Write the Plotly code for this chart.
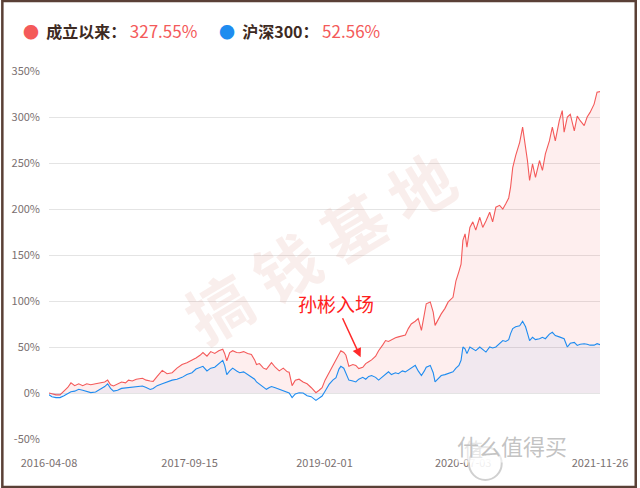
import plotly.graph_objects as go

dates = [
"2016-04-08","2016-04-19","2016-05-04","2016-05-19","2016-06-03","2016-06-17","2016-06-29","2016-07-13","2016-07-28","2016-08-12",
"2016-08-27","2016-09-11","2016-09-29","2016-10-18","2016-11-02","2016-11-13","2016-11-24","2016-12-05","2016-12-20","2017-01-04",
"2017-01-19","2017-01-30","2017-02-13","2017-02-28","2017-03-23","2017-04-06","2017-04-21","2017-05-02","2017-05-17","2017-06-05",
"2017-06-23","2017-07-12","2017-07-30","2017-08-18","2017-09-05","2017-09-24","2017-10-09","2017-10-24","2017-11-04","2017-11-19",
"2017-12-03","2017-12-18","2018-01-02","2018-01-17","2018-01-24","2018-02-01","2018-02-12","2018-02-23","2018-03-10","2018-03-21",
"2018-04-05","2018-04-20","2018-05-04","2018-05-16","2018-05-23","2018-06-03","2018-06-18","2018-06-29","2018-07-10","2018-07-18",
"2018-08-01","2018-08-16","2018-08-31","2018-09-15","2018-09-22","2018-10-03","2018-10-15","2018-10-29","2018-11-13","2018-11-28",
"2018-12-13","2018-12-31","2019-01-12","2019-01-23","2019-02-03","2019-02-18","2019-03-04","2019-03-16","2019-03-27","2019-04-03",
"2019-04-14","2019-04-22","2019-05-03","2019-05-18","2019-05-29","2019-06-09","2019-06-24","2019-07-05","2019-07-16","2019-07-27",
"2019-08-11","2019-08-22","2019-09-06","2019-09-17","2019-09-28","2019-10-09","2019-10-24","2019-11-04","2019-11-19","2019-11-30",
"2019-12-11","2019-12-22","2020-01-06","2020-01-17","2020-01-29","2020-02-09","2020-02-16","2020-03-02","2020-03-13","2020-03-20",
"2020-03-31","2020-04-12","2020-04-26","2020-05-08","2020-05-26","2020-06-06","2020-06-17","2020-06-25","2020-07-02","2020-07-10",
"2020-07-17","2020-07-28","2020-08-08","2020-08-19","2020-09-03","2020-09-14","2020-09-26","2020-10-10","2020-10-21","2020-11-02",
"2020-11-16","2020-11-28","2020-12-09","2020-12-20","2020-12-27","2021-01-04","2021-01-15","2021-01-30","2021-02-10","2021-02-21",
"2021-02-28","2021-03-08","2021-03-19","2021-03-30","2021-04-14","2021-04-25","2021-05-06","2021-05-21","2021-06-01","2021-06-12",
"2021-06-27","2021-07-08","2021-07-15","2021-07-27","2021-08-07","2021-08-22","2021-09-02","2021-09-13","2021-09-28","2021-10-09",
"2021-10-20","2021-11-04","2021-11-15","2021-11-26"]

fund = [
0,-1,-2,-2,2,6,11,8,10,8,
10,9,10,11,12,14,9,7.6,10,12,
11,14,13,15,16,14,13,12.7,18,24.6,
21,22,27,31,33,35.5,38,41,44,40,
45,43,46,47.5,43,35,44,46,44,43.8,
45,43,42,36,31,32,27,25.7,30,33,
28,24,27,23,22.5,8,14,15,12,10,
6,0.3,3,5.8,14,22.5,30,35.5,42,46,
44,41,29,31,30,26.5,28,32,34,36,
40,46,52,57,56,58,60,61,62,63,
70,75,78,81,68,88,97,99,88,73.5,
80,86,92,99,104,122,132,140,166,173,
158.5,180,186,177,191,180,187,196.5,186,202,
204,200,205.6,212,223.7,245,258,272.5,289,267,
252.7,231,249,234.5,252.7,242,260,274,289,274,
296,307,283.5,300,303,285,301,296,290.6,300,
305,314,327,327.55]

hs300 = [
-2,-4,-5,-5,-3,-1,1.4,2,4,3,
2,0.4,1,4,7,10,5,2,3,5,
5.5,5.8,6,7,7.6,6,3.9,5,8,10,
12,14,15,17,20,22,26,28,29,24,
27,28,32,35.5,30,20,24,27,24,22,
23,20,18,15,12,9.4,6,4,6,7,
5.8,4,3,1,0,-5,-1,0.3,0,-3,
-4,-8,-6,-3.3,2,9.4,14,16.7,26,29,
27,22,14,13,12,15,17,15,18,19,
17,14,18,21,23,20,22,21,24,23,
25,27,30,24,19,24,28,30,22,12,
15,19,20,21,23,27,30,35.5,50,48,
42.8,50,48,46,50,47,44.5,50,49,50,
54,57,56,58,64.5,70,72,73,78,72,
65,57,60.6,58,59,60.6,59,64,66,62.5,
61,60,59,50,54,55,51.7,53,53.6,53,
52,52,53.6,52.56]

tick_dates = ["2016-04-08", "2017-09-15", "2019-02-01", "2020-07-03", "2021-11-26"]
y_ticks = [-50, 0, 50, 100, 150, 200, 250, 300, 350]
legend_fund = "成立以来："
legend_idx = "沪深300："
fund_last = "327.55%"
idx_last = "52.56%"

RED = "#f45a5a"
BLUE = "#1e8cf0"
FONT = "Noto Sans CJK SC"

fig = go.Figure()
fig.add_trace(go.Scatter(x=dates, y=fund, mode="lines", line=dict(color=RED, width=1.1),
                         fill="tozeroy", fillcolor="rgba(245,90,90,0.10)", hoverinfo="skip"))
fig.add_trace(go.Scatter(x=dates, y=hs300, mode="lines", line=dict(color=BLUE, width=1.1),
                         fill="tozeroy", fillcolor="rgba(30,144,255,0.06)", hoverinfo="skip"))

L, R, T, B = 48, 37, 71, 49
W, H = 640 - L - R, 488 - T - B

def px(xp):
    return (xp - L) / W

def py(yp):
    return 1 - (yp - T) / H

shapes = [
    dict(type="rect", xref="paper", yref="paper", x0=px(1), x1=px(639), y0=py(487), y1=py(1),
         line=dict(color="#5a4036", width=2.5), fillcolor="rgba(0,0,0,0)", layer="above"),
    dict(type="circle", xref="paper", yref="paper", x0=px(471), x1=px(504), y0=py(480), y1=py(447),
         line=dict(color="#d0d0d0", width=2), fillcolor="rgba(255,255,255,0.88)", layer="above"),
]

annotations = [
    dict(xref="paper", yref="paper", x=px(20), y=py(31), xanchor="left", yanchor="middle", showarrow=False,
         text=f"<span style='color:{RED}'>●</span>  <b>{legend_fund}</b> <span style='color:{RED};font-size:17px'>{fund_last}</span>",
         font=dict(family=FONT, size=16, color="#3d2a22")),
    dict(xref="paper", yref="paper", x=px(217), y=py(31), xanchor="left", yanchor="middle", showarrow=False,
         text=f"<span style='color:{BLUE}'>●</span>  <b>{legend_idx}</b> <span style='color:{RED};font-size:17px'>{idx_last}</span>",
         font=dict(family=FONT, size=16, color="#3d2a22")),
    dict(xref="paper", yref="paper", x=px(320), y=py(245), showarrow=False, textangle=-31,
         text="<b>搞 钱 基 地</b>", font=dict(family=FONT, size=64, color="rgba(215,150,135,0.16)")),
    dict(x="2019-06-16", y=38.8, ax=-25, ay=-54, text="孙彬入场", showarrow=True,
         arrowhead=2, arrowsize=1.2, arrowwidth=1.5, arrowcolor="#ff2a2a",
         font=dict(family=FONT, size=19, color="#ff2020")),
    dict(xref="paper", yref="paper", x=px(487.5), y=py(463.5), showarrow=False, text="值",
         font=dict(family=FONT, size=19, color="#c8c8c8")),
    dict(xref="paper", yref="paper", x=px(572), y=py(463), showarrow=False, text="什么值得买",
         bgcolor="rgba(255,255,255,0.55)",
         font=dict(family=FONT, size=22, color="rgba(192,192,192,0.95)")),
]

fig.update_layout(
    width=640, height=488,
    margin=dict(l=L, r=R, t=T, b=B),
    paper_bgcolor="white", plot_bgcolor="white",
    showlegend=False,
    shapes=shapes, annotations=annotations,
    xaxis=dict(type="date", range=[dates[0], dates[-1]], tickvals=tick_dates, ticktext=tick_dates,
               showgrid=False, zeroline=False, showline=False, ticks="",
               ticklabelstandoff=16,
               tickfont=dict(family=FONT, size=11, color="#7a7070")),
    yaxis=dict(range=[-50, 350], tickvals=y_ticks, ticktext=[f"{v}%" for v in y_ticks],
               showgrid=True, gridcolor="#e4e4e4", gridwidth=1, zeroline=False, showline=False,
               ticks="", ticklabelstandoff=8,
               tickfont=dict(family=FONT, size=11, color="#7a7070")),
)

fig.write_html("out.html", config={"displayModeBar": False},
               post_script="document.body.style.margin='0';document.body.style.padding='0';")
